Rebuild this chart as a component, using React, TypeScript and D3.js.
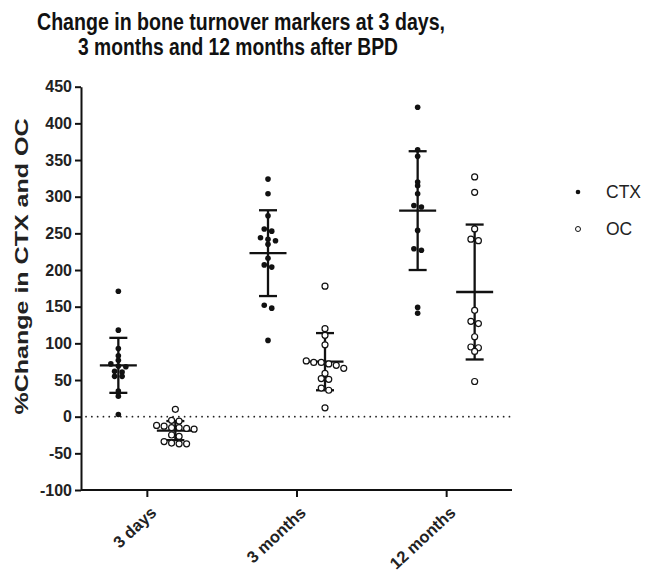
import React, { useEffect, useRef } from 'react'
import * as d3 from 'd3'

const categories = ['3 days', '3 months', '12 months']
const yTicks = [-100, -50, 0, 50, 100, 150, 200, 250, 300, 350, 400, 450]

// individual values
const ctx3d = [171, 118, 93, 83, 77, 72, 69, 68, 61, 62, 55, 55, 35, 28, 3]
const oc3d = [10, -6, -5, -12, -13, -15, -15, -17, -16, -25, -27, -34, -36, -37, -37]
const ctx3m = [324, 304, 274, 256, 253, 244, 240, 242, 235, 216, 207, 204, 152, 148, 104]
const oc3m = [178, 120, 111, 98, 76, 74, 72, 70, 74, 66, 59, 52, 51, 39, 36, 12]
const ctx12m = [422, 364, 355, 320, 315, 304, 288, 286, 254, 229, 227, 141, 149]
const oc12m = [327, 306, 256, 242, 240, 145, 130, 127, 109, 94, 95, 89, 48]

// mean and SD as drawn
const ctxMean = [70, 223, 281]
const ctxSd = [37.5, 58.5, 81]
const ocMean = [-19, 75, 170]
const ocSd = [13, 39, 92]

const series = [
  { name: 'CTX', values: [ctx3d, ctx3m, ctx12m], mean: ctxMean, sd: ctxSd, filled: true },
  { name: 'OC', values: [oc3d, oc3m, oc12m], mean: ocMean, sd: ocSd, filled: false },
]

// small horizontal spread for overlapping points
function jitter(vals: number[]) {
  let sorted = vals.map((v, i) => ({ v, i })).sort((a, b) => b.v - a.v)
  let out: number[] = new Array(vals.length).fill(0)
  let k = 0
  while (k < sorted.length) {
    let grp = [sorted[k]]
    let j = k + 1
    while (j < sorted.length && sorted[j - 1].v - sorted[j].v < 4.5) {
      grp.push(sorted[j])
      j++
    }
    let n = grp.length
    grp.forEach((g, gi) => {
      out[g.i] = (gi - (n - 1) / 2) * 7.5
    })
    k = j
  }
  return out
}

const FONT = 'Liberation Sans, Arial, sans-serif'

export default function App() {
  const ref = useRef<SVGSVGElement>(null)

  useEffect(() => {
    document.body.style.margin = '0'
    const width = 647
    const height = 577
    const svg = d3.select(ref.current)
    svg.selectAll('*').remove()
    svg.attr('width', width).attr('height', height)
      .attr('font-family', FONT)
      .style('display', 'block')

    const left = 81, right = 512, top = 86.7, bottom = 490

    const x = d3.scalePoint<string>().domain(categories).range([left, right]).padding(0.44)
    const y = d3.scaleLinear().domain([-100, 450]).range([bottom, top])

    // title (narrow-looking font in the original, so squeeze to the measured width)
    const titleLines = [
      { text: 'Change in bone turnover markers at 3 days,', cx: 241, y: 30, w: 408 },
      { text: '3 months and 12 months after BPD', cx: 238, y: 55, w: 320 },
    ]
    titleLines.forEach(l => {
      svg.append('text')
        .attr('x', l.cx - l.w / 2)
        .attr('y', l.y)
        .attr('font-weight', 'bold')
        .attr('font-size', 23)
        .attr('fill', '#111')
        .attr('textLength', l.w)
        .attr('lengthAdjust', 'spacingAndGlyphs')
        .text(l.text)
    })

    // y axis
    const yAxis = svg.append('g')
      .attr('transform', 'translate(' + left + ',0)')
      .call(d3.axisLeft(y).tickValues(yTicks).tickFormat(d => String(d)).tickSize(6).tickPadding(3).tickSizeOuter(0))
    yAxis.select('.domain').attr('stroke', '#111').attr('stroke-width', 2)
    yAxis.selectAll('.tick line').attr('stroke', '#111').attr('stroke-width', 2)
    yAxis.selectAll('.tick text')
      .attr('font-size', 16).attr('font-weight', 'bold').attr('fill', '#222')
      .attr('font-family', FONT)

    svg.append('text')
      .attr('transform', 'translate(28,' + 266.5 + ') rotate(-90)')
      .attr('x', -148)
      .attr('font-size', 19)
      .attr('font-weight', 'bold')
      .attr('fill', '#222')
      .attr('textLength', 296)
      .attr('lengthAdjust', 'spacingAndGlyphs')
      .text('%Change in CTX and OC')

    // x axis
    const xAxis = svg.append('g')
      .attr('transform', 'translate(0,' + bottom + ')')
      .call(d3.axisBottom(x).tickSize(7).tickSizeOuter(0))
    xAxis.select('.domain').attr('stroke', '#111').attr('stroke-width', 2)
      .attr('d', 'M' + left + ',0H' + right)
    xAxis.selectAll('.tick line').attr('stroke', '#111').attr('stroke-width', 2)
    xAxis.selectAll('.tick text')
      .attr('font-size', 16.5).attr('font-weight', 'bold').attr('fill', '#222')
      .attr('font-family', FONT)
      .attr('text-anchor', 'end')
      .attr('y', 0)
      .attr('dy', null)
      .attr('transform', 'translate(10,24) rotate(-43)')

    // zero line
    svg.append('line')
      .attr('x1', left + 5).attr('x2', right)
      .attr('y1', y(0)).attr('y2', y(0))
      .attr('stroke', '#222').attr('stroke-width', 1.7)
      .attr('stroke-dasharray', '0.1,5.7')
      .attr('stroke-linecap', 'round')

    const offset = 28.5
    series.forEach((s, si) => {
      const dx = si === 0 ? -offset : offset
      s.values.forEach((vals, ci) => {
        const cx = x(categories[ci])! + dx
        const g = svg.append('g')
        const m = s.mean[ci], sd = s.sd[ci]
        g.append('line').attr('x1', cx).attr('x2', cx).attr('y1', y(m + sd)).attr('y2', y(m - sd))
          .attr('stroke', '#111').attr('stroke-width', 2.3)
        g.append('line').attr('x1', cx - 18.5).attr('x2', cx + 18.5).attr('y1', y(m)).attr('y2', y(m))
          .attr('stroke', '#111').attr('stroke-width', 2.3)
        ;[m + sd, m - sd].forEach(v => {
          g.append('line').attr('x1', cx - 9).attr('x2', cx + 9).attr('y1', y(v)).attr('y2', y(v))
            .attr('stroke', '#111').attr('stroke-width', 2.3)
        })
        const jit = jitter(vals)
        g.selectAll('circle')
          .data(vals)
          .enter()
          .append('circle')
          .attr('cx', (d, i) => cx + jit[i])
          .attr('cy', d => y(d))
          .attr('r', s.filled ? 2.8 : 3)
          .attr('fill', s.filled ? '#111' : '#fff')
          .attr('stroke', '#111')
          .attr('stroke-width', s.filled ? 0 : 1.2)
      })
    })

    // legend
    const legend = svg.append('g').attr('transform', 'translate(578,192)')
    series.forEach((s, i) => {
      legend.append('circle')
        .attr('cx', 0).attr('cy', i * 37)
        .attr('r', s.filled ? 2.3 : 2.5)
        .attr('fill', s.filled ? '#111' : '#fff')
        .attr('stroke', '#111')
        .attr('stroke-width', s.filled ? 0 : 1)
      legend.append('text')
        .attr('x', 28).attr('y', i * 37 + 6)
        .attr('font-size', 17.5)
        .attr('fill', '#222')
        .text(s.name)
    })
  }, [])

  return <svg ref={ref}></svg>
}
